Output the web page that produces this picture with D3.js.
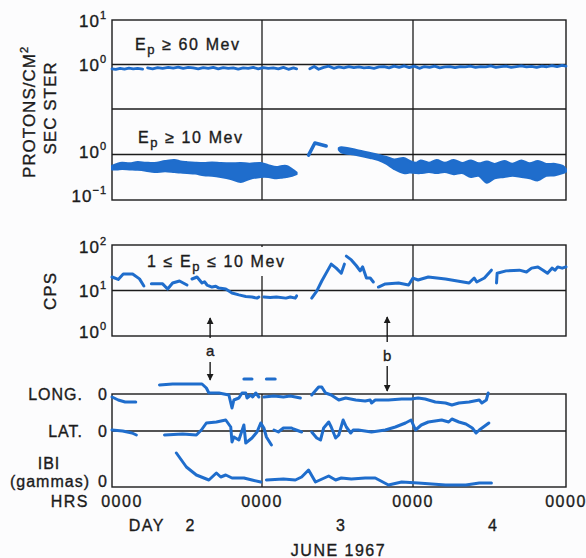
<!DOCTYPE html>
<html>
<head>
<meta charset="utf-8">
<script src="https://cdn.jsdelivr.net/npm/d3@7"></script>
<style>
  body { margin: 0; background: #fcfcfd; }
  svg text { font-family: "Liberation Sans", Arial, sans-serif; fill: #1b1b1b; stroke: #1b1b1b; stroke-width: 0.35px; }
</style>
</head>
<body>
<svg id="chart" width="586" height="558"></svg>
<script>
// hours since 0000 on June 2, 1967
const DAY_HOURS = [0, 24, 48, 72];
const HRS_LABELS = ['0000', '0000', '0000', '0000'];
const DAY_LABELS = ['2', '3', '4'];
const EVENT_LABELS = ['a', 'b'];
const EVENT_HOURS = [15.7, 43.9];

// Ep >= 60 Mev, protons/cm2 sec ster
const p60 = [
  [[0,0.80],[0.6,0.78],[1.3,0.82],[2,0.79],[2.7,0.83],[3.4,0.80],[4.1,0.82],[4.9,0.79]],
  [[5.7,0.84],[6.5,0.80],[7.3,0.85],[8.1,0.82],[9,0.86],[9.8,0.83],[10.6,0.87],[11.4,0.82],[12.2,0.86],[13,0.84],
   [13.8,0.80],[14.6,0.85],[15.4,0.82],[16.2,0.86],[17,0.80],[17.8,0.85],[18.6,0.82],[19.4,0.84],[20.2,0.79],[21,0.84],
   [21.8,0.82],[22.6,0.86],[23.4,0.80],[24.2,0.85],[25,0.82],[25.8,0.84],[26.6,0.80],[27.4,0.86],[28.2,0.78],[29,0.84],[29.5,0.80]],
  [[31.6,0.80],[32.3,0.90],[33,0.78],[33.8,0.86],[34.6,0.92],[35.4,0.82],[36.2,0.88],[37,0.84],[37.8,0.90],[38.6,0.85],
   [39.4,0.88],[40.2,0.84],[41,0.86],[41.8,0.82],[42.6,0.88],[43.4,0.90],[44.2,0.84],[45,0.92],[45.8,0.86],[46.6,0.93],
   [47.4,0.85],[48.2,0.92],[49,0.82],[49.8,0.90],[50.6,0.86],[51.4,0.92],[52.2,0.84],[53,0.88],[53.8,0.90],[54.6,0.85],
   [55.4,0.90],[56.2,0.88],[57,0.92],[57.8,0.86],[58.6,0.90],[59.4,0.88],[60.2,0.93],[61,0.86],[61.8,0.90],[62.6,0.92],
   [63.4,0.86],[64.2,0.90],[65,0.93],[65.8,0.88],[66.6,0.91],[67.4,0.86],[68.2,0.92],[69,0.89],[69.8,0.94],[70.6,0.90],
   [71.4,0.95],[72,0.92]]
];

// Ep >= 10 Mev, plotted as a band: [hour, low, high]
const p10BandA = [
  [0,0.47,0.56],[0.8,0.47,0.62],[1.6,0.48,0.66],[2.8,0.47,0.64],[4.1,0.46,0.68],[5.4,0.44,0.66],[6.8,0.41,0.65],
  [8.5,0.43,0.72],[10,0.41,0.76],[11,0.40,0.70],[12,0.39,0.68],[13.3,0.38,0.66],[14.7,0.35,0.65],[16,0.34,0.67],
  [17.4,0.32,0.65],[19,0.29,0.64],[20.6,0.25,0.65],[22,0.29,0.63],[23.8,0.32,0.65],[25,0.32,0.58],[26.3,0.30,0.53],
  [27.2,0.31,0.56],[27.9,0.32,0.56],[28.8,0.34,0.47],[29.5,0.37,0.40]
];
const p10Hook = [[31.4,0.97],[32.4,1.79],[34.2,1.54]];
const p10BandB = [
  [36.2,1.28,1.38],[36.6,1.12,1.44],[39,0.98,1.26],[41.2,0.84,1.08],[42.5,0.75,0.98],[43.8,0.62,0.88],[45,0.48,0.78],
  [46.5,0.39,0.84],[47.5,0.40,0.72],[48.5,0.39,0.66],[49.2,0.39,0.74],[50.5,0.41,0.66],[51.7,0.39,0.76],[53,0.41,0.66],
  [54.4,0.37,0.76],[55.7,0.39,0.65],[57.1,0.32,0.74],[58.3,0.34,0.64],[59.6,0.24,0.70],[60.8,0.30,0.62],[62.3,0.32,0.72],
  [63.6,0.34,0.63],[65,0.32,0.74],[66.3,0.30,0.64],[67.6,0.27,0.72],[68.9,0.34,0.62],[70.3,0.35,0.62],[71.5,0.39,0.56],[72,0.42,0.47]
];

// 1 <= Ep <= 10 Mev, counts per second
const cps = [
  [[0,19.8],[1.0,17.5],[1.8,23],[3.3,23],[4.4,18],[5.1,12.6]],
  [[6.3,14],[8.1,14],[8.9,10.8],[9.7,14.6],[10.8,16.2],[12.0,13.2]],
  [[12.8,17.9],[13.6,19.8],[14.4,14.6],[14.8,15.6],[15.2,13.2],[16.0,11.9],[16.6,12.4],[17.1,11.3],[18.2,10.8],
   [19.2,8.8],[20.3,8.0],[21.4,7.4],[22.4,7.2],[23.2,6.8],[23.5,7.2]],
  [[24.3,7.2],[25.3,7.0],[26.3,7.2],[27.8,6.8],[28.5,7.2],[29.3,6.8],[29.5,7.6]],
  [[31.9,6.8],[32.7,9.7],[33.5,16.2],[34.4,27],[35.0,38],[35.8,31],[36.6,24],[37.1,38]],
  [[37.4,57],[38.2,47],[39.0,35],[39.6,27],[40.0,33],[40.6,18.8],[41.2,18.8],[41.7,15.4]],
  [[42.5,11.9],[43.6,13.9],[45.7,14.6],[47.3,13.2],[48.0,18.8],[48.8,17.0],[50.4,19.8],[53.1,17.9],[56.8,14.6],
   [57.6,18.8],[58.0,15.4],[59.2,18.8],[60.3,28]],
  [[61.1,14.6],[61.2,24],[62.6,27],[64.7,28],[65.8,25.5],[66.6,31],[67.6,33],[68.4,28],[69.1,24],[69.8,31],
   [70.3,28],[70.7,33],[71.4,31],[72,33]]
];

// magnetometer, arbitrary units about each zero line
const longSeries = [
  [[0,-1.5],[1.0,-3],[2.1,-4],[3.8,-4]],
  [[7.6,4.5],[9.7,5],[12.7,5],[14.4,5],[15.1,3],[15.5,0.5],[17.1,0.5],[18.7,-0.5],[19.2,-7],[19.5,-3],[20.3,-2],
   [20.8,0.5],[21.4,0.5],[21.6,-2],[22.2,-0.5],[22.5,-1.5],[23.0,0.5],[23.5,-1.5]],
  [[24.3,-1.5],[25.9,-1],[27.4,-1.5],[28.5,-1],[30.1,-2]],
  [[31.9,-0.5],[33.0,3.5],[33.5,3.5],[34.1,0.5],[35.0,-0.5],[36.2,-3],[37.3,-2],[38.9,-3],[40.4,-3.5],[41.2,-3],
   [41.4,-4.5],[42.0,-3],[44.1,-3],[46.2,-2.5],[47.7,-2.5],[48.8,-2],[49.9,-2.5],[51.5,-4],[53.1,-4.5],[54.1,-5.5],
   [55.2,-4.5],[56.8,-4],[58.4,-3],[58.8,-4.5],[59.5,-3],[59.8,0.5]]
];
const longDashes = [[[21.1,7.5],[22.4,7.5]], [[24.7,7.5],[26.1,7.5]]];
const latSeries = [
  [[0,0.5],[1.7,0],[3.2,-1],[3.9,-2]],
  [[8.4,-2],[11.3,-1.5],[13.5,-2],[14.3,0.5],[15.1,4],[16.7,4.5],[18.2,5.5],[19.0,2],[19.2,-5.5],[19.5,-3],[20.3,-4.5],
   [21.1,3],[21.4,-6],[22.4,-3.5],[23.2,-0.5],[23.8,4],[24.3,1.5],[24.7,-3],[25.5,-7]],
  [[25.9,0.5],[26.6,-0.5],[27.4,1.5],[28.7,1.5],[29.0,1],[30.3,-0.5]],
  [[31.9,-0.5],[32.7,-3.5],[33.3,-4.5],[33.8,1.5],[34.6,4.5],[35.0,2],[35.7,-3.5],[36.2,-2],[36.9,5.5],[37.4,2],
   [38.1,-1],[38.5,0.5],[39.3,0.5],[41.4,-0.5],[43.6,0.5],[45.2,2],[46.8,4],[47.7,5.5],[48.4,0.5],[49.3,3],[50.4,4.5],
   [52.5,5.5],[53.6,4.5],[54.1,6],[55.2,4.5],[56.3,3.5],[57.3,1.5],[57.9,-1],[58.4,0.5],[59.9,4]]
];
const ibiSeries = [
  [[10.3,17],[11.9,10],[13.5,6],[15.5,3.5],[16.7,7],[17.4,5],[18.2,6],[19.2,4.5],[21.1,4.5],[22.4,3.5],[23.8,2.5]],
  [[24.7,3.5],[27.4,4],[29.3,3.5],[30.3,5],[31.4,8.5],[32.5,2.5],[34.6,5.5],[35.7,3.5],[36.6,4.5],[38.2,4],[40.4,4.5],
   [42.0,4.5],[44.1,1],[46.2,2.5],[48.8,2],[53.1,1],[56.3,1],[58.4,2],[60.3,2]]
];

const BLUE = '#1f6dcc';
const INK = '#1b1b1b';
const svg = d3.select('#chart');

const x = d3.scaleLinear().domain(DAY_HOURS).range([112, 262, 413, 566]);
const yHi = d3.scaleLog().domain([0.1, 10]).range([109, 20]);
const yLo = d3.scaleLog().domain([0.1, 10]).range([200, 109]);
const yCps = d3.scaleLog().domain([1, 100]).range([336, 245]);
const yLong = d3.scaleLinear().domain([-10, 10]).range([414, 374]);
const yLat = d3.scaleLinear().domain([-10, 10]).range([451, 411]);
const yIbi = d3.scaleLinear().domain([0, 20]).range([487, 447]);

const x0 = x(0), x1 = x(72);

function hline(y, xa = x0, xb = x1) {
  svg.append('line').attr('x1', xa).attr('x2', xb).attr('y1', y).attr('y2', y)
    .attr('stroke', INK).attr('stroke-width', 1.3);
}
function vline(xx, ya, yb) {
  svg.append('line').attr('x1', xx).attr('x2', xx).attr('y1', ya).attr('y2', yb)
    .attr('stroke', INK).attr('stroke-width', 1.3);
}
function frame(top, bottom) {
  svg.append('rect').attr('x', x0).attr('y', top).attr('width', x1 - x0).attr('height', bottom - top)
    .attr('fill', 'none').attr('stroke', INK).attr('stroke-width', 1.4);
}
function powLabel(y, exp) {
  const t = svg.append('text').attr('x', 107).attr('y', y).attr('text-anchor', 'end')
    .style('font-size', '17px').style('letter-spacing', '1px');
  t.append('tspan').text('10');
  t.append('tspan').attr('dy', -8).style('font-size', '11px').text(exp);
}
function drawLines(series, ys, width) {
  const line = d3.line().x(d => x(d[0])).y(d => ys(d[1]));
  svg.selectAll(null).data(series).enter().append('path')
    .attr('d', line).attr('fill', 'none').attr('stroke', BLUE)
    .attr('stroke-width', width).attr('stroke-linecap', 'round').attr('stroke-linejoin', 'round');
}
function drawBand(band) {
  const area = d3.area().x(d => x(d[0])).y0(d => yLo(d[1])).y1(d => yLo(d[2])).curve(d3.curveCatmullRom);
  svg.append('path').attr('d', area(band)).attr('fill', BLUE)
    .attr('stroke', BLUE).attr('stroke-width', 2).attr('stroke-linejoin', 'round');
}

// ---- panel 1: protons
frame(yHi(10), yLo(0.1));
hline(yHi(1));
hline(yHi(0.1));
hline(yLo(1));
DAY_HOURS.slice(1, 3).forEach(h => vline(x(h), yHi(10), yLo(0.1)));
powLabel(yHi(10) + 7, '1');
powLabel(yHi(1) + 6, '0');
powLabel(yLo(1) + 3, '0');
powLabel(yLo(0.1) + 2, '\u22121');

function energyLabel(xx, y, pre, post) {
  const t = svg.append('text').attr('x', xx).attr('y', y)
    .style('font-size', '16px').style('letter-spacing', '1.6px');
  t.append('tspan').text(pre + 'E');
  t.append('tspan').attr('dy', 4).style('font-size', '13px').text('p');
  t.append('tspan').attr('dy', -4).text(post);
}
energyLabel(135, 50, '', ' \u2265 60 Mev');
energyLabel(138, 143, '', ' \u2265 10 Mev');

svg.append('text').attr('transform', 'translate(35,112) rotate(-90)').attr('text-anchor', 'middle')
  .style('font-size', '17px').style('letter-spacing', '1px')
  .call(t => { t.append('tspan').text('PROTONS/CM'); t.append('tspan').attr('dy', -7).style('font-size', '11px').text('2'); });
svg.append('text').attr('transform', 'translate(56,108) rotate(-90)').attr('text-anchor', 'middle')
  .style('font-size', '17px').style('letter-spacing', '1px').text('SEC STER');

drawLines(p60, yHi, 2.8);
drawBand(p10BandA);
drawBand(p10BandB);
drawLines([p10Hook], yLo, 3.5);

// ---- panel 2: low energy protons
frame(yCps(100), yCps(1));
hline(yCps(10));
DAY_HOURS.slice(1, 3).forEach(h => vline(x(h), yCps(100), yCps(1)));
svg.append('rect').attr('x', 144).attr('y', yCps(100) + 2).attr('width', 154).attr('height', 29).attr('fill', '#fcfcfd');
powLabel(yCps(100) + 8, '2');
powLabel(yCps(10) + 6, '1');
powLabel(yCps(1) + 2, '0');
energyLabel(147, 267, '1 \u2264 ', ' \u2264 10 Mev');
svg.append('text').attr('transform', 'translate(56,291) rotate(-90)').attr('text-anchor', 'middle')
  .style('font-size', '17px').style('letter-spacing', '1px').text('CPS');
drawLines(cps, yCps, 3);

// ---- events a, b
svg.append('defs').append('marker').attr('id', 'head').attr('viewBox', '0 0 10 10')
  .attr('refX', 9).attr('refY', 5).attr('markerWidth', 7).attr('markerHeight', 9)
  .attr('markerUnits', 'userSpaceOnUse').attr('orient', 'auto')
  .append('path').attr('d', 'M0,0L10,5L0,10Z').attr('fill', INK);
EVENT_HOURS.forEach((h, i) => {
  const xx = x(h);
  const off = i === 0 ? 0 : 4;
  svg.append('line').attr('x1', xx).attr('x2', xx).attr('y1', 338 + off).attr('y2', 318 - (i ? 1 : 0))
    .attr('stroke', INK).attr('stroke-width', 1.4).attr('marker-end', 'url(#head)');
  svg.append('text').attr('x', xx).attr('y', 356 + off + (i ? 1 : 0)).attr('text-anchor', 'middle')
    .style('font-size', '15px').text(EVENT_LABELS[i]);
  svg.append('line').attr('x1', xx).attr('x2', xx).attr('y1', 362 + off).attr('y2', i ? 391 : 380)
    .attr('stroke', INK).attr('stroke-width', 1.4).attr('marker-end', 'url(#head)');
});

// ---- panel 3: magnetometer
frame(yLong(0), yIbi(0));
hline(yLat(0));
DAY_HOURS.slice(1, 3).forEach(h => vline(x(h), yLong(0), yIbi(0)));

function sideLabel(y, label, anchorX) {
  svg.append('text').attr('x', anchorX).attr('y', y).attr('text-anchor', 'end')
    .style('font-size', '16px').style('letter-spacing', '1px').text(label);
  svg.append('text').attr('x', 107).attr('y', y).attr('text-anchor', 'end')
    .style('font-size', '16px').text('0');
}
sideLabel(yLong(0) + 6, 'LONG.', 83);
sideLabel(yLat(0) + 6, 'LAT.', 83);
sideLabel(yIbi(0), '(gammas)', 90);
svg.append('text').attr('x', 49).attr('y', 469).attr('text-anchor', 'middle')
  .style('font-size', '16px').style('letter-spacing', '1px').text('IBI');

drawLines(longSeries, yLong, 3);
drawLines(longDashes, yLong, 3);
drawLines(latSeries, yLat, 3);
drawLines(ibiSeries, yIbi, 3);

// ---- time axis
const axisY = 507;
svg.append('text').attr('x', 89).attr('y', axisY).attr('text-anchor', 'end')
  .style('font-size', '16px').style('letter-spacing', '1.5px').text('HRS');
svg.selectAll('.hrs').data(DAY_HOURS).enter().append('text').attr('class', 'hrs')
  .attr('x', (d, i) => x(d) + (i === 0 ? 10 : 0)).attr('y', axisY).attr('text-anchor', 'middle')
  .style('font-size', '16px').style('letter-spacing', '1.5px').text((d, i) => HRS_LABELS[i]);
svg.append('text').attr('x', 165).attr('y', 531).attr('text-anchor', 'end')
  .style('font-size', '16px').style('letter-spacing', '1.5px').text('DAY');
svg.selectAll('.day').data(DAY_LABELS).enter().append('text').attr('class', 'day')
  .attr('x', (d, i) => x(DAY_HOURS[i] + 12) + 3).attr('y', 531).attr('text-anchor', 'middle')
  .style('font-size', '16px').text(d => d);
svg.append('text').attr('x', x(36) + 1).attr('y', 556).attr('text-anchor', 'middle')
  .style('font-size', '16px').style('letter-spacing', '1.5px').text('JUNE 1967');
</script>
</body>
</html>
